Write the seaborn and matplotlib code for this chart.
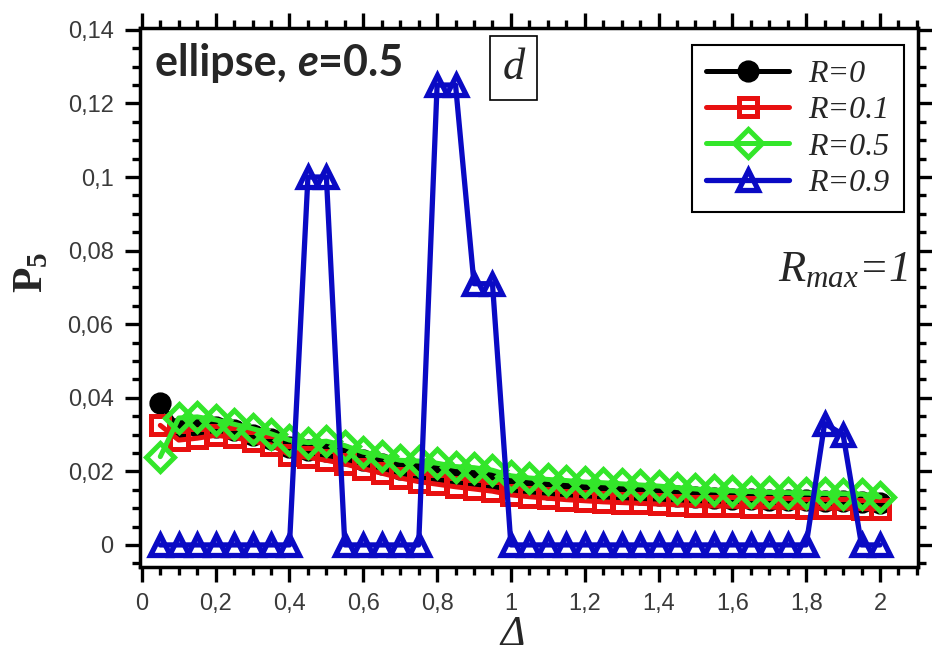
import numpy as np
import pandas as pd
import seaborn as sns
import matplotlib.pyplot as plt
from matplotlib.patches import Rectangle
from matplotlib.ticker import FixedLocator, FixedFormatter, MultipleLocator

# ---------------- data ----------------
delta = [0.05, 0.10, 0.15, 0.20, 0.25, 0.30, 0.35, 0.40, 0.45, 0.50,
         0.55, 0.60, 0.65, 0.70, 0.75, 0.80, 0.85, 0.90, 0.95, 1.00,
         1.05, 1.10, 1.15, 1.20, 1.25, 1.30, 1.35, 1.40, 1.45, 1.50,
         1.55, 1.60, 1.65, 1.70, 1.75, 1.80, 1.85, 1.90, 1.95, 2.00]

p5_R0 = [0.0385, 0.0318, 0.0322, 0.0320, 0.0312, 0.0300, 0.0288, 0.0265, 0.0258, 0.0256,
         0.0245, 0.0230, 0.0220, 0.0206, 0.0200, 0.0193, 0.0186, 0.0181, 0.0175, 0.0162,
         0.0157, 0.0153, 0.0149, 0.0146, 0.0143, 0.0140, 0.0138, 0.0136, 0.0133, 0.0130,
         0.0128, 0.0126, 0.0125, 0.0123, 0.0122, 0.0121, 0.0120, 0.0120, 0.0118, 0.0115]

p5_R01 = [0.0325, 0.0285, 0.0290, 0.0298, 0.0292, 0.0282, 0.0272, 0.0245, 0.0238, 0.0230,
          0.0220, 0.0207, 0.0195, 0.0182, 0.0172, 0.0165, 0.0158, 0.0152, 0.0146, 0.0136,
          0.0131, 0.0127, 0.0123, 0.0120, 0.0117, 0.0115, 0.0113, 0.0111, 0.0109, 0.0107,
          0.0106, 0.0105, 0.0104, 0.0103, 0.0102, 0.0101, 0.0100, 0.0100, 0.0099, 0.0098]

p5_R05 = [0.0240, 0.0345, 0.0348, 0.0340, 0.0328, 0.0316, 0.0302, 0.0285, 0.0278, 0.0282,
          0.0270, 0.0252, 0.0242, 0.0230, 0.0228, 0.0222, 0.0213, 0.0210, 0.0203, 0.0188,
          0.0182, 0.0178, 0.0175, 0.0171, 0.0169, 0.0166, 0.0163, 0.0160, 0.0156, 0.0152,
          0.0149, 0.0147, 0.0145, 0.0143, 0.0142, 0.0141, 0.0140, 0.0139, 0.0138, 0.0130]

p5_R09 = [0.0, 0.0, 0.0, 0.0, 0.0, 0.0, 0.0, 0.0, 0.100, 0.100,
          0.0, 0.0, 0.0, 0.0, 0.0, 0.125, 0.125, 0.071, 0.071, 0.0,
          0.0, 0.0, 0.0, 0.0, 0.0, 0.0, 0.0, 0.0, 0.0, 0.0,
          0.0, 0.0, 0.0, 0.0, 0.0, 0.0, 0.033, 0.030, 0.0, 0.0]

series_labels = ["R=0", "R=0.1", "R=0.5", "R=0.9"]

xticks = [0, 0.2, 0.4, 0.6, 0.8, 1.0, 1.2, 1.4, 1.6, 1.8, 2.0]
xticklabels = ["0", "0,2", "0,4", "0,6", "0,8", "1", "1,2", "1,4", "1,6", "1,8", "2"]
yticks = [0, 0.02, 0.04, 0.06, 0.08, 0.10, 0.12, 0.14]
yticklabels = ["0", "0,02", "0,04", "0,06", "0,08", "0,1", "0,12", "0,14"]

# ---------------- style ----------------
sns.set_style("ticks")
plt.rcParams["font.family"] = ["Liberation Sans Narrow", "Liberation Sans", "DejaVu Sans"]
plt.rcParams["mathtext.fontset"] = "custom"
plt.rcParams["mathtext.it"] = "Liberation Serif:italic"
plt.rcParams["mathtext.rm"] = "Liberation Serif:italic"
plt.rcParams["mathtext.bf"] = "Liberation Serif:bold"

fig = plt.figure(figsize=(9.32, 6.56), dpi=100)
fig.patch.set_facecolor("white")
ax = fig.add_axes([140 / 932, 1 - 567 / 656, 778 / 932, 539 / 656])

styles = [
    dict(color="#000000", marker="o", mfc="#000000", ms=14, mew=2.0, lw=3.6),
    dict(color="#e81010", marker="s", mfc="none", ms=12.5, mew=3.6, lw=3.6),
    dict(color="#33e62a", marker="D", mfc="none", ms=14, mew=3.6, lw=3.6),
    dict(color="#0a0ac4", marker="^", mfc="none", ms=14, mew=3.8, lw=3.8),
]
all_series = [p5_R0, p5_R01, p5_R05, p5_R09]

for lab, yv, st in zip(series_labels, all_series, styles):
    df = pd.DataFrame({"delta": delta, "P5": yv})
    sns.lineplot(data=df, x="delta", y="P5", ax=ax, color=st["color"],
                 marker=st["marker"], markersize=st["ms"],
                 markerfacecolor=st["mfc"], markeredgecolor=st["color"],
                 markeredgewidth=st["mew"], linewidth=st["lw"],
                 label=lab, legend=False)

ax.set_xlim(-0.005, 2.103)
ax.set_ylim(-0.006, 0.1405)

ax.xaxis.set_major_locator(FixedLocator(xticks))
ax.xaxis.set_major_formatter(FixedFormatter(xticklabels))
ax.xaxis.set_minor_locator(MultipleLocator(0.05))
ax.yaxis.set_major_locator(FixedLocator(yticks))
ax.yaxis.set_major_formatter(FixedFormatter(yticklabels))
ax.yaxis.set_minor_locator(MultipleLocator(0.005))

for sp in ax.spines.values():
    sp.set_linewidth(2.5)
    sp.set_color("black")
    sp.set_visible(True)

ax.tick_params(which="both", direction="out", top=True, right=True,
               width=2.4, color="black")
ax.tick_params(which="major", length=11, pad=8, labelsize=17, labelcolor="#3a3a3a")
ax.tick_params(which="minor", length=6)

ax.set_xlabel("Δ", fontsize=30, family="Liberation Serif", style="italic", va="center")
ax.xaxis.set_label_coords(0.479, -0.125)
ax.set_ylabel(r"$\mathbf{P_5}$", fontsize=30, va="center")
ax.yaxis.set_label_coords(-0.14, 0.547)

# legend
handles = ax.get_lines()[:4]
leg = ax.legend(handles, series_labels, loc="upper left",
                bbox_to_anchor=(692 / 932, 1 - 45 / 656),
                bbox_transform=fig.transFigure, borderaxespad=0,
                frameon=True, fancybox=False, shadow=False, numpoints=1,
                prop={"family": "Liberation Serif", "style": "italic", "size": 23},
                handlelength=2.6, handletextpad=0.6, labelspacing=0.22,
                borderpad=0.45)
leg.get_frame().set_edgecolor("black")
leg.get_frame().set_linewidth(1.5)
leg.get_frame().set_alpha(1)

# annotations
fs_title = 31
t1 = fig.text(155 / 932, 1 - 63 / 656, "ellipse, ", fontsize=fs_title, fontweight="bold",
              family="Lato", va="center", ha="left")
t2 = ax.annotate("e", xy=(1, 0), xycoords=t1, va="bottom", ha="left",
                 fontsize=fs_title, fontweight="bold", style="italic", family="Lato")
t3 = ax.annotate("=0.5", xy=(1, 0), xycoords=t2, va="bottom", ha="left",
                 fontsize=fs_title, fontweight="bold", family="Lato")

fig.patches.append(Rectangle((490 / 932, 1 - 100 / 656), 47 / 932, 64 / 656,
                             transform=fig.transFigure, fill=True, facecolor="white",
                             edgecolor="black", linewidth=1.2, zorder=5))
fig.text(513.5 / 932, 1 - 68 / 656, "d", fontsize=32, family="Liberation Serif",
         style="italic", ha="center", va="center", zorder=6)

fig.text(843 / 932, 1 - 270 / 656, r"$R_{max}$=1", fontsize=32,
         family="Liberation Serif", style="italic", ha="center", va="center")

fig.savefig("out.png", dpi=100)
